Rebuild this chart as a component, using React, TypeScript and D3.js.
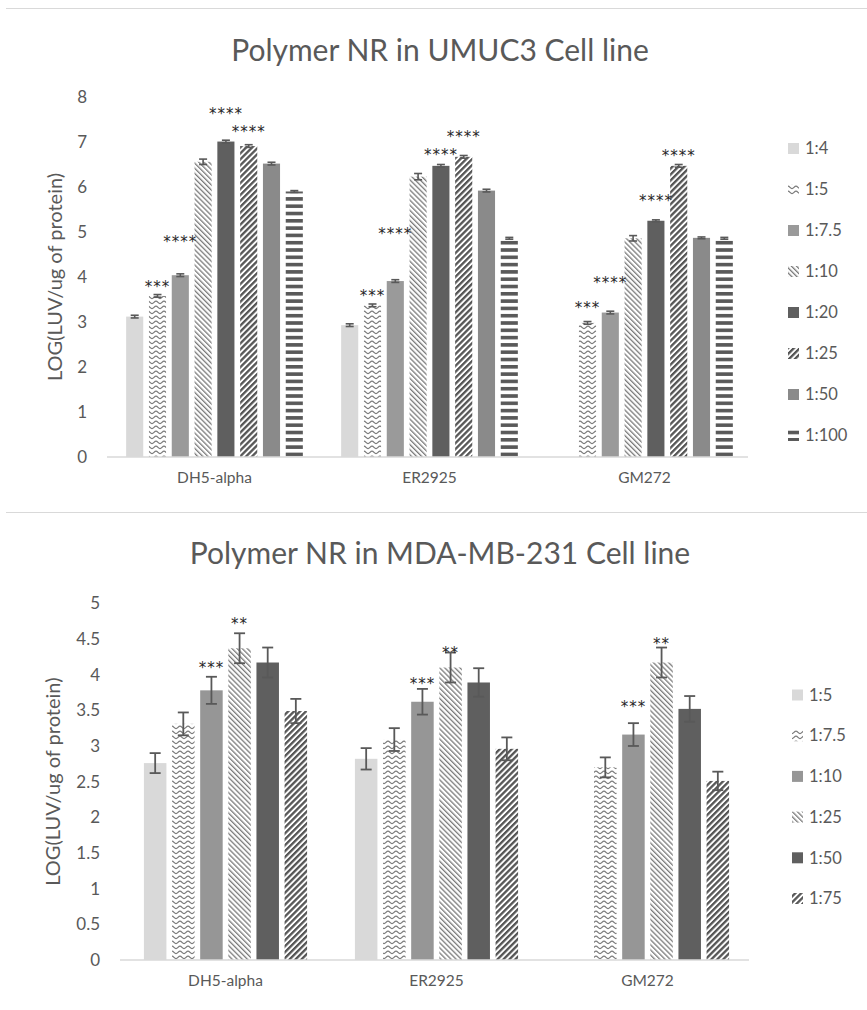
import React from "react";
import * as d3 from "d3";

// ---------- DATA ----------
const categories = ["DH5-alpha", "ER2925", "GM272"];

// Chart 1: Polymer NR in UMUC3 Cell line
const titleTop = "Polymer NR in UMUC3 Cell line";
const seriesTop = ["1:4", "1:5", "1:7.5", "1:10", "1:20", "1:25", "1:50", "1:100"];
const dh5Top = [3.12, 3.58, 4.04, 6.56, 7.01, 6.91, 6.52, 5.9];
const er2925Top = [2.93, 3.37, 3.91, 6.23, 6.47, 6.67, 5.92, 4.86];
const gm272Top = [0, 2.98, 3.21, 4.86, 5.25, 6.47, 4.87, 4.86];
const dh5TopErr = [0.03, 0.03, 0.03, 0.06, 0.03, 0.03, 0.03, 0.02];
const er2925TopErr = [0.03, 0.03, 0.03, 0.07, 0.03, 0.03, 0.03, 0.02];
const gm272TopErr = [0, 0.03, 0.03, 0.06, 0.02, 0.03, 0.02, 0.02];
const dh5TopStars = ["", "***", "****", "", "****", "****", "", ""];
const er2925TopStars = ["", "***", "****", "", "****", "****", "", ""];
const gm272TopStars = ["", "***", "****", "", "****", "****", "", ""];
const dh5TopStarLevel = [0, 3.87, 4.87, 0, 7.71, 7.31, 0, 0];
const er2925TopStarLevel = [0, 3.67, 5.04, 0, 6.79, 7.21, 0, 0];
const gm272TopStarLevel = [0, 3.4, 3.96, 0, 5.78, 6.78, 0, 0];
const yMaxTop = 8;

// Chart 2: Polymer NR in MDA-MB-231 Cell line
const titleBottom = "Polymer NR in MDA-MB-231 Cell line";
const seriesBottom = ["1:5", "1:7.5", "1:10", "1:25", "1:50", "1:75"];
const dh5Bottom = [2.76, 3.31, 3.78, 4.37, 4.17, 3.49];
const er2925Bottom = [2.82, 3.09, 3.62, 4.1, 3.89, 2.96];
const gm272Bottom = [0, 2.7, 3.16, 4.17, 3.52, 2.51];
const dh5BottomErr = [0.14, 0.16, 0.19, 0.21, 0.21, 0.17];
const er2925BottomErr = [0.15, 0.16, 0.18, 0.21, 0.2, 0.16];
const gm272BottomErr = [0, 0.14, 0.16, 0.21, 0.18, 0.13];
const dh5BottomStars = ["", "", "***", "**", "", ""];
const er2925BottomStars = ["", "", "***", "**", "", ""];
const gm272BottomStars = ["", "", "***", "**", "", ""];
const dh5BottomStarLevel = [0, 0, 4.15, 4.76, 0, 0];
const er2925BottomStarLevel = [0, 0, 3.93, 4.36, 0, 0];
const gm272BottomStarLevel = [0, 0, 3.6, 4.49, 0, 0];
const yMaxBottom = 5;

const yAxisTitle = "LOG(LUV/ug of protein)";

// ---------- STYLES ----------
const FONT = "Lato, 'Open Sans', sans-serif";
const TEXT = "#595959";
const fillsTop = [
  "#d9d9d9",
  "url(#pWave)",
  "#9a9a9a",
  "url(#pDown)",
  "#5f5f5f",
  "url(#pUp)",
  "#8a8a8a",
  "url(#pHoriz)",
];
const fillsBottom = [
  "#d9d9d9",
  "url(#pWave)",
  "#969696",
  "url(#pDown)",
  "#5f5f5f",
  "url(#pUp)",
];

type Cfg = {
  title: string;
  titleY: number;
  sepY: number;
  left: number;
  right: number;
  y0: number;
  yTop: number;
  yMax: number;
  tickCount: number;
  labelX: number;
  yTitleX: number;
  catY: number;
  legendX: number;
  legendY0: number;
  legendStep: number;
  padInner: number;
  padOuter: number;
  capHalf: number;
  errWidth: number;
};

function BarChart(props: {
  cfg: Cfg;
  series: string[];
  values: number[][];
  errors: number[][];
  stars: string[][];
  starLevels: number[][];
  fills: string[];
}) {
  const { cfg, series, values, errors, stars, starLevels, fills } = props;
  const x0 = d3.scaleBand<string>().domain(categories).range([cfg.left, cfg.right]);
  const x1 = d3
    .scaleBand<string>()
    .domain(series)
    .range([0, x0.bandwidth()])
    .paddingInner(cfg.padInner)
    .paddingOuter(cfg.padOuter);
  const y = d3.scaleLinear().domain([0, cfg.yMax]).range([cfg.y0, cfg.yTop]);
  const ticks = y.ticks(cfg.tickCount);
  const bw = x1.bandwidth();
  const midY = (cfg.y0 + cfg.yTop) / 2;

  return (
    <g>
      <line x1={6} x2={867} y1={cfg.sepY} y2={cfg.sepY} stroke="#d9d9d9" strokeWidth={1} />
      <text x={440} y={cfg.titleY} textAnchor="middle" fontFamily={FONT} fontSize={30} fill={TEXT}>
        {cfg.title}
      </text>
      {ticks.map((t) => (
        <text
          key={t}
          x={cfg.labelX}
          y={y(t)}
          dy="0.35em"
          textAnchor="end"
          fontFamily={FONT}
          fontSize={17}
          fill={TEXT}
        >
          {String(t)}
        </text>
      ))}
      <text
        transform={`translate(${cfg.yTitleX},${midY}) rotate(-90)`}
        textAnchor="middle"
        dy="0.35em"
        fontFamily={FONT}
        fontSize={20}
        fill={TEXT}
      >
        {yAxisTitle}
      </text>
      {categories.map((c, ci) => (
        <g key={c}>
          {series.map((s, si) => {
            const v = values[ci][si];
            if (!v) return null;
            const bx = (x0(c) as number) + (x1(s) as number);
            const by = y(v);
            const cx = bx + bw / 2;
            const e = errors[ci][si];
            return (
              <g key={s}>
                <rect x={bx} y={by} width={bw} height={cfg.y0 - by} fill={fills[si]} />
                {e > 0 && (
                  <g stroke="#595959" strokeWidth={cfg.errWidth}>
                    <line x1={cx} x2={cx} y1={y(v + e)} y2={y(v - e)} />
                    <line x1={cx - cfg.capHalf} x2={cx + cfg.capHalf} y1={y(v + e)} y2={y(v + e)} />
                    <line x1={cx - cfg.capHalf} x2={cx + cfg.capHalf} y1={y(v - e)} y2={y(v - e)} />
                  </g>
                )}
              </g>
            );
          })}
          {series.map((s, si) => {
            const st = stars[ci][si];
            if (!st) return null;
            const cx = (x0(c) as number) + (x1(s) as number) + bw / 2;
            return (
              <text
                key={"s" + s}
                x={cx}
                y={y(starLevels[ci][si]) + 9}
                textAnchor="middle"
                fontFamily="'DejaVu Sans', sans-serif"
                fontSize={15}
                letterSpacing={1}
                fill="#262626"
              >
                {st}
              </text>
            );
          })}
          <text
            x={(x0(c) as number) + x0.bandwidth() / 2}
            y={cfg.catY}
            textAnchor="middle"
            dy="0.35em"
            fontFamily={FONT}
            fontSize={15.5}
            fill={TEXT}
          >
            {c}
          </text>
        </g>
      ))}
      <line x1={cfg.left} x2={cfg.right - 4} y1={cfg.y0} y2={cfg.y0} stroke="#d9d9d9" strokeWidth={1.5} />
      {series.map((s, si) => {
        const ly = cfg.legendY0 + si * cfg.legendStep;
        return (
          <g key={"l" + s}>
            <rect x={cfg.legendX} y={ly - 5.5} width={11} height={11} fill={fills[si]} />
            <text x={cfg.legendX + 17} y={ly} dy="0.35em" fontFamily={FONT} fontSize={16.5} fill={TEXT}>
              {s}
            </text>
          </g>
        );
      })}
    </g>
  );
}

export default function App() {
  const cfgTop: Cfg = {
    title: titleTop,
    titleY: 61,
    sepY: 8.5,
    left: 107,
    right: 752,
    y0: 457,
    yTop: 97,
    yMax: yMaxTop,
    tickCount: 8,
    labelX: 87,
    yTitleX: 55,
    catY: 478,
    legendX: 788,
    legendY0: 148.5,
    legendStep: 41,
    padInner: 0.25,
    padOuter: 0.84,
    capHalf: 4,
    errWidth: 1.6,
  };
  const cfgBottom: Cfg = {
    title: titleBottom,
    titleY: 564,
    sepY: 512.5,
    left: 120,
    right: 753,
    y0: 960,
    yTop: 603.3,
    yMax: yMaxBottom,
    tickCount: 10,
    labelX: 100,
    yTitleX: 53,
    catY: 981,
    legendX: 792,
    legendY0: 695,
    legendStep: 40.7,
    padInner: 0.2,
    padOuter: 0.85,
    capHalf: 5.5,
    errWidth: 1.8,
  };
  return (
    <svg
      width={867}
      height={1010}
      style={{ position: "absolute", left: 0, top: 0, background: "#fff" }}
    >
      <defs>
        <pattern id="pWave" patternUnits="userSpaceOnUse" width={8} height={5}>
          <rect width={8} height={5} fill="#fff" />
          <path d="M0,3.6 C1.6,3.6 2.4,1.2 4,1.2 C5.6,1.2 6.4,3.6 8,3.6" fill="none" stroke="#7a7a7a" strokeWidth={1.2} />
        </pattern>
        <pattern id="pDown" patternUnits="userSpaceOnUse" width={3.6} height={3.6} patternTransform="rotate(-45)">
          <rect width={3.6} height={3.6} fill="#fff" />
          <rect width={1.3} height={3.6} fill="#7a7a7a" />
        </pattern>
        <pattern id="pUp" patternUnits="userSpaceOnUse" width={4.2} height={4.2} patternTransform="rotate(45)">
          <rect width={4.2} height={4.2} fill="#fff" />
          <rect width={2.3} height={4.2} fill="#555" />
        </pattern>
        <pattern id="pHoriz" patternUnits="userSpaceOnUse" width={10} height={7.3}>
          <rect width={10} height={7.3} fill="#fff" />
          <rect y={0} width={10} height={3.6} fill="#595959" />
        </pattern>
      </defs>
      <BarChart
        cfg={cfgTop}
        series={seriesTop}
        values={[dh5Top, er2925Top, gm272Top]}
        errors={[dh5TopErr, er2925TopErr, gm272TopErr]}
        stars={[dh5TopStars, er2925TopStars, gm272TopStars]}
        starLevels={[dh5TopStarLevel, er2925TopStarLevel, gm272TopStarLevel]}
        fills={fillsTop}
      />
      <BarChart
        cfg={cfgBottom}
        series={seriesBottom}
        values={[dh5Bottom, er2925Bottom, gm272Bottom]}
        errors={[dh5BottomErr, er2925BottomErr, gm272BottomErr]}
        stars={[dh5BottomStars, er2925BottomStars, gm272BottomStars]}
        starLevels={[dh5BottomStarLevel, er2925BottomStarLevel, gm272BottomStarLevel]}
        fills={fillsBottom}
      />
    </svg>
  );
}
